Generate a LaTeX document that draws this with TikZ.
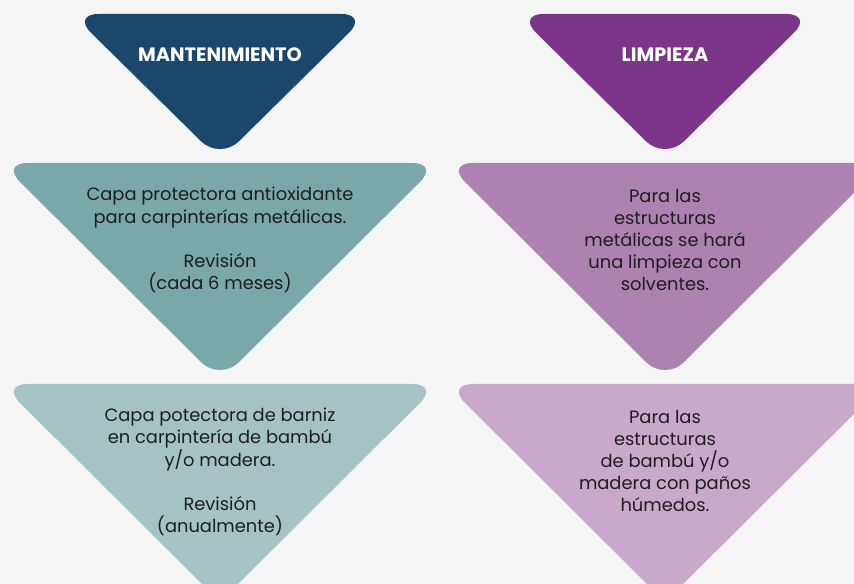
\documentclass[tikz,border=0pt]{standalone}
\usepackage{fontspec}
\setmainfont{Poppins}
\definecolor{bgc}{HTML}{F5F5F5}
\definecolor{navy}{HTML}{1B476D}
\definecolor{purp}{HTML}{7B368A}
\definecolor{teal1}{HTML}{7AA7A8}
\definecolor{mauve1}{HTML}{AE82B0}
\definecolor{teal2}{HTML}{A5C3C4}
\definecolor{mauve2}{HTML}{C9A9CA}
\definecolor{txt}{HTML}{1E1E1E}
\tikzset{
  tri/.style={rounded corners=20pt},
  head/.style={text=white, font=\fontsize{14.5}{17}\selectfont\bfseries, inner sep=0pt},
  body/.style={text=txt, align=center, font=\fontsize{13.4}{16.6}\selectfont, inner sep=0pt}
}
\begin{document}
\begin{tikzpicture}[x=0.75pt,y=-0.75pt]
\useasboundingbox (0,0) rectangle (854,584);
\fill[bgc] (0,0) rectangle (854,584);
\clip (0,0) rectangle (854,584);
% row 1
\fill[navy,tri] (72,14) -- (368,14) -- (220,160) -- cycle;
\fill[purp,tri] (517,14) -- (813,14) -- (665,160) -- cycle;
% row 2
\fill[teal1,tri] (1,163) -- (439,163) -- (220,381) -- cycle;
\fill[mauve1,tri] (446,163) -- (884,163) -- (665,381) -- cycle;
% row 3
\fill[teal2,tri] (1,384) -- (439,384) -- (220,602) -- cycle;
\fill[mauve2,tri] (446,384) -- (884,384) -- (665,602) -- cycle;
% texts
\node[head] (h1) at (220,55) {MANTENIMIENTO};
\node[head] (h2) at (665,55) {LIMPIEZA};
\node[body] (b1) at (220,240) {Capa protectora antioxidante\\para carpinterías metálicas.\\[16.6pt]Revisión\\(cada 6 meses)};
\node[body] (b2) at (665,240) {Para las\\estructuras\\metálicas se hará\\una limpieza con\\solventes.};
\node[body] (b3) at (220,472) {Capa potectora de barniz\\en carpintería de bambú\\y/o madera.\\[16.6pt]Revisión\\(anualmente)};
\node[body] (b4) at (665,461) {Para las\\estructuras\\de bambú y/o\\madera con paños\\húmedos.};
\end{tikzpicture}
\end{document}
